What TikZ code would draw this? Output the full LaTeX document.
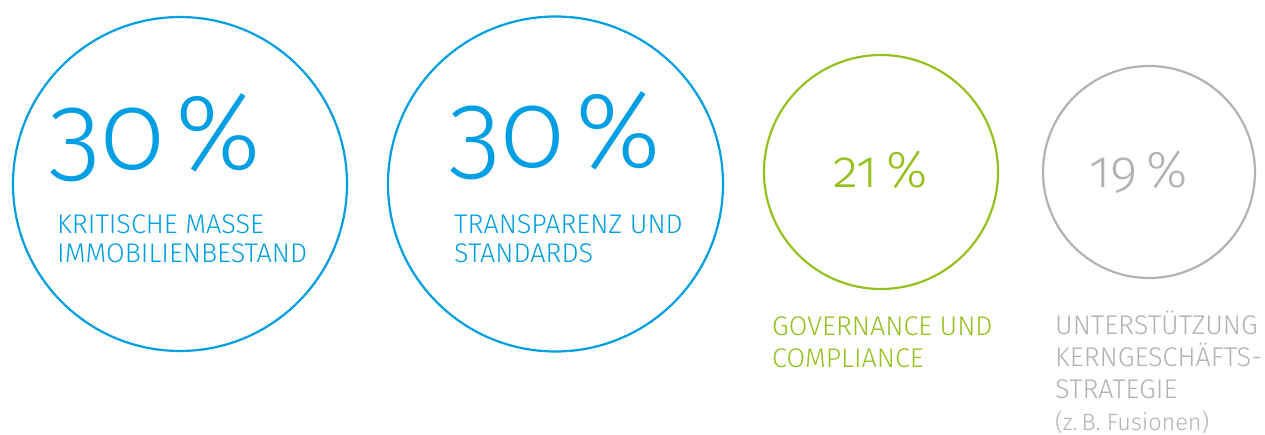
\documentclass[tikz,border=0pt]{standalone}
\usepackage{fontspec}
\setmainfont{Fira Sans Light}[Numbers=OldStyle]
\usepackage{tikz}
\usepackage{xcolor}
\definecolor{ringblue}{HTML}{009FE3}
\definecolor{ringgreen}{HTML}{95C11F}
\definecolor{ringgray}{HTML}{B2B2B2}
\tikzset{
	ring/.style={
		circle,
		draw,
		line width=2.2pt,
		inner sep=0pt
	},
	bignum/.style={
		anchor=base west,
		inner sep=0pt,
		font=\fontsize{108}{108}\selectfont
	},
	smallnum/.style={
		anchor=base west,
		inner sep=0pt,
		font=\fontsize{52}{52}\selectfont
	},
	tagline/.style={
		anchor=base west,
		align=left,
		inner sep=0pt,
		font=\fontsize{27}{29}\selectfont
	}
}

\begin{document}
\begin{tikzpicture}[x=1pt,y=-1pt]
		\useasboundingbox (0,0) rectangle (1265,435);
		
		\draw node[ring, ringblue, minimum size=334pt] (MassRing) at (180,184) {};
		\draw node[ring, ringblue, minimum size=335pt] (TranspRing) at (555.5,184) {};
		\draw node[ring, ringgreen, minimum size=234pt] (GovRing) at (881,172) {};
		\draw node[ring, ringgray, minimum size=212pt] (CoreRing) at (1149,172) {};
		
		\draw node[bignum, ringblue] (MassNum) at (48,170) {30\hspace{0.1em}\%};
		\draw node[bignum, ringblue] (TranspNum) at (448,168) {30\hspace{0.1em}\%};
		\draw node[smallnum, ringgreen] (GovNum) at (833,188) {21\,\%};
		\draw node[smallnum, ringgray] (CoreNum) at (1089,188) {19\,\%};
		
		% base of a multi-line node = last line
		\draw node[tagline, ringblue] (MassText) at (57,263) {KRITISCHE MASSE\\ IMMOBILIENBESTAND};
		\draw node[tagline, ringblue] (TranspText) at (454,263) {TRANSPARENZ UND\\ STANDARDS};
		\draw node[tagline, ringgreen, font=\fontsize{27}{32}\selectfont] (GovText) at (772,367) {GOVERNANCE UND\\ COMPLIANCE};
		\draw node[tagline, ringgray, font=\fontsize{27}{32}\selectfont] (CoreText) at (1055,430) {UNTERSTÜTZUNG\\ KERNGESCHÄFTS-\\ STRATEGIE\\ {\fontsize{23.5}{31}\selectfont (z.\,B. Fusionen)}};
	\end{tikzpicture}
\end{document}
